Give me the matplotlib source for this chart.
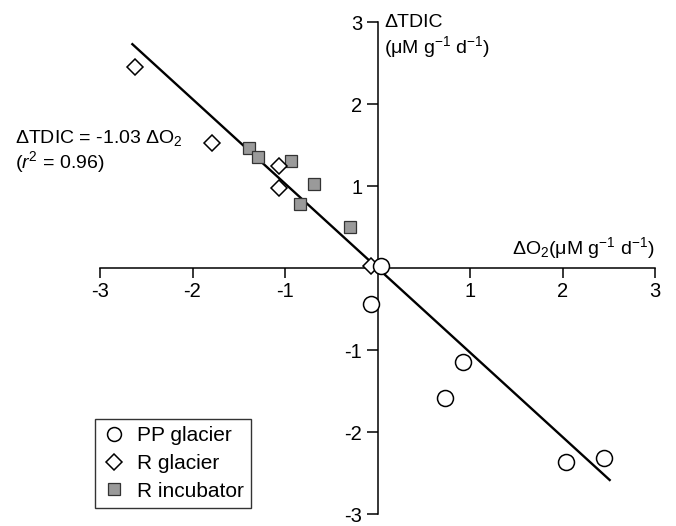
import numpy as np
import matplotlib
matplotlib.use("Agg")
import matplotlib.pyplot as plt
from matplotlib.lines import Line2D

plt.rcParams["font.family"] = ["Liberation Sans", "DejaVu Sans"]
plt.rcParams["mathtext.fontset"] = "custom"
plt.rcParams["mathtext.rm"] = "Liberation Sans"
plt.rcParams["mathtext.it"] = "Liberation Sans:italic"

# data (dO2, dTDIC)
pp_glacier_x = [0.04, -0.07, 0.92, 0.73, 2.04, 2.45]
pp_glacier_y = [0.02, -0.44, -1.15, -1.58, -2.37, -2.32]

r_glacier_x = [-2.62, -1.79, -1.07, -1.07, -0.07]
r_glacier_y = [2.45, 1.53, 1.24, 0.98, 0.02]

r_incubator_x = [-1.39, -1.29, -0.94, -0.69, -0.84, -0.30]
r_incubator_y = [1.46, 1.35, 1.30, 1.03, 0.78, 0.50]

slope = -1.03
fit_x = [-2.65, 2.51]
ticks = [-3, -2, -1, 1, 2, 3]

fig = plt.figure(figsize=(6.76, 5.26), dpi=100)
ax = fig.add_axes([100 / 676, 12 / 526, 555 / 676, 492 / 526])
ax.set_xlim(-3, 3)
ax.set_ylim(-3, 3)

# axes crossing at the origin
ax.spines["left"].set_position(("data", 0))
ax.spines["bottom"].set_position(("data", 0))
ax.spines["top"].set_visible(False)
ax.spines["right"].set_visible(False)
for s in ("left", "bottom"):
    ax.spines[s].set_linewidth(1.1)

ax.set_xticks(ticks)
ax.set_yticks(ticks)
ax.set_xticklabels([str(t) for t in ticks])
ax.set_yticklabels([str(t) for t in ticks])
ax.tick_params(axis="x", direction="out", length=7, width=1.1, labelsize=14.5, pad=3)
ax.tick_params(axis="y", direction="out", length=8, width=1.1, labelsize=14.5, pad=3)

# regression line
fx = np.array(fit_x)
ax.plot(fx, slope * fx, color="black", lw=1.7, zorder=2)

ax.plot(r_incubator_x, r_incubator_y, ls="none", marker="s", ms=8.5,
        mfc="#9a9a9a", mec="#333333", mew=0.9, zorder=3, clip_on=False)
ax.plot(r_glacier_x, r_glacier_y, ls="none", marker="D", ms=8,
        mfc="white", mec="black", mew=1.1, zorder=4, clip_on=False)
ax.plot(pp_glacier_x, pp_glacier_y, ls="none", marker="o", ms=11.5,
        mfc="white", mec="black", mew=1.1, zorder=5, clip_on=False)

# axis titles
ax.text(3.0, 0.08, r"ΔO$_2$(μM g$^{-1}$ d$^{-1}$)", ha="right", va="bottom", fontsize=14)
ax.text(0.07, 3.1, "ΔTDIC\n" + r"(μM g$^{-1}$ d$^{-1}$)", ha="left", va="top",
        fontsize=14, linespacing=1.15)

fig.text(15 / 676, 1 - 128 / 526, "ΔTDIC = -1.03 ΔO$_2$\n($r^2$ = 0.96)",
         ha="left", va="top", fontsize=14, linespacing=1.05)

handles = [
    Line2D([], [], ls="none", marker="o", ms=10, mfc="white", mec="black", mew=1.1),
    Line2D([], [], ls="none", marker="D", ms=8, mfc="white", mec="black", mew=1.1),
    Line2D([], [], ls="none", marker="s", ms=8, mfc="#9a9a9a", mec="#333333", mew=0.9),
]
leg = fig.legend(handles, ["PP glacier", "R glacier", "R incubator"],
                 loc="lower left", bbox_to_anchor=(95 / 676, 1 - 508 / 526),
                 fontsize=15, frameon=True, fancybox=False, edgecolor="black",
                 handletextpad=0.55, handlelength=1.1, borderpad=0.35,
                 labelspacing=0.42, borderaxespad=0)
leg.get_frame().set_linewidth(1.0)

fig.savefig("out.png", dpi=100)
